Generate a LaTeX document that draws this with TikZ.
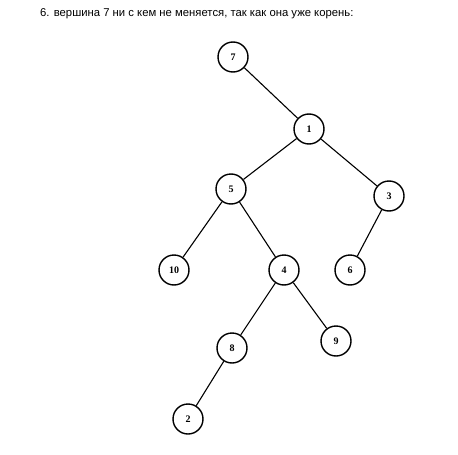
\documentclass[tikz,border=0pt]{standalone}
\usepackage{fontspec}
\setmainfont{Liberation Serif}
\newfontfamily\titlefont{Liberation Sans}
\begin{document}
\begin{tikzpicture}[x=1pt,y=-1pt,
  vert/.style={circle,draw,line width=1.4pt,minimum size=30pt,inner sep=0pt,font=\fontsize{10}{11}\selectfont\bfseries},
  edge/.style={line width=1.1pt}]
\useasboundingbox (0,0) rectangle (458,455);
\node[anchor=west,inner sep=0pt,font=\titlefont\fontsize{11.3}{13}\selectfont] (title) at (40,14) {6. вершина 7 ни с кем не меняется, так как она уже корень:};
\node[vert] (n7) at (233,57) {7};
\node[vert] (n1) at (309,129) {1};
\node[vert] (n5) at (231,189) {5};
\node[vert] (n3) at (389,196) {3};
\node[vert] (n10) at (174,270) {10};
\node[vert] (n4) at (284,270) {4};
\node[vert] (n6) at (350,270) {6};
\node[vert] (n8) at (232,348) {8};
\node[vert] (n9) at (336,341) {9};
\node[vert] (n2) at (188,419) {2};
\draw[edge] (n7) -- (n1);
\draw[edge] (n1) -- (n5);
\draw[edge] (n1) -- (n3);
\draw[edge] (n5) -- (n10);
\draw[edge] (n5) -- (n4);
\draw[edge] (n3) -- (n6);
\draw[edge] (n4) -- (n8);
\draw[edge] (n4) -- (n9);
\draw[edge] (n8) -- (n2);
\end{tikzpicture}
\end{document}
